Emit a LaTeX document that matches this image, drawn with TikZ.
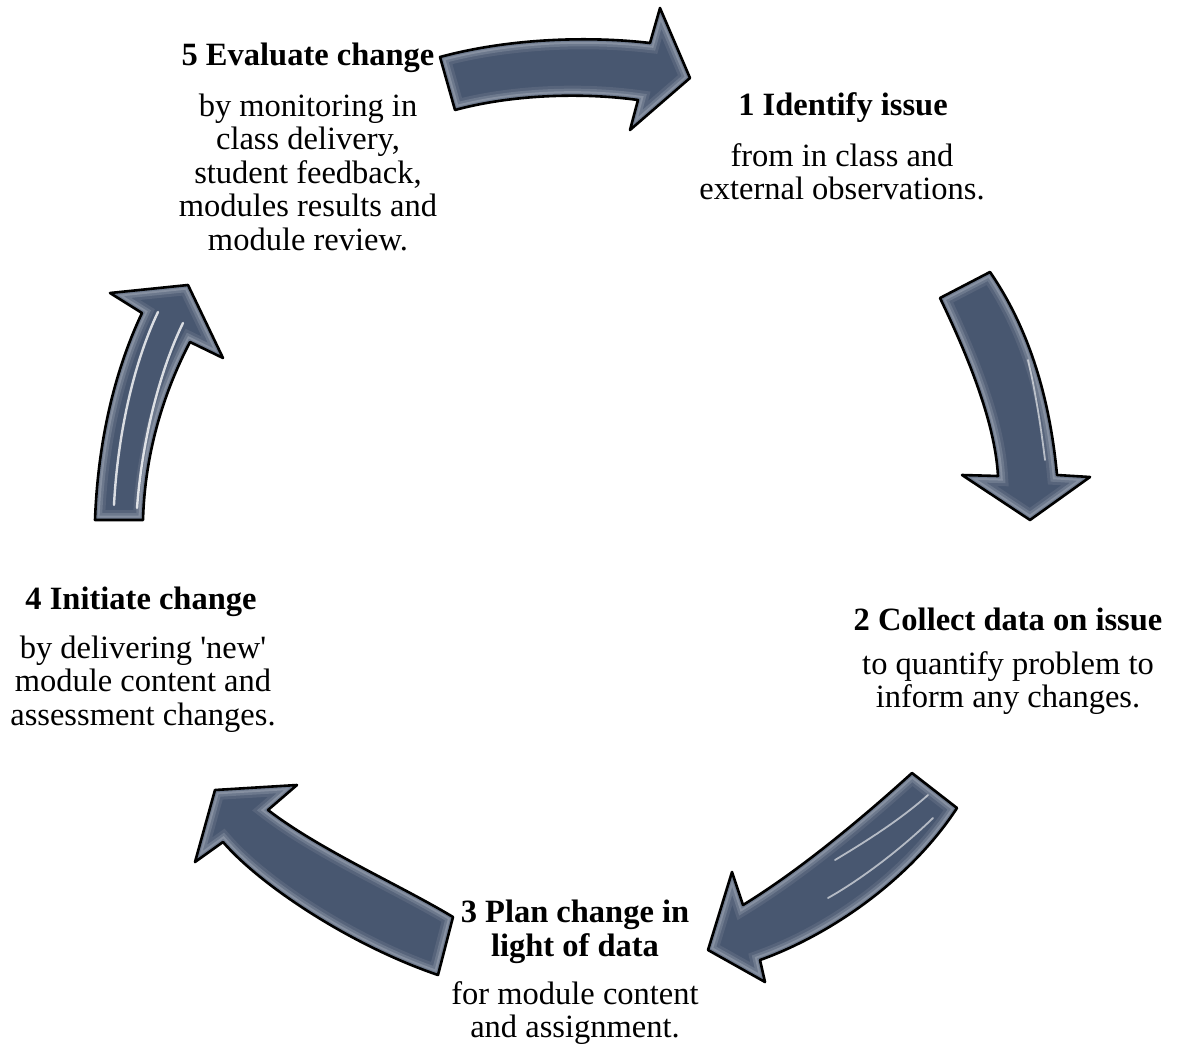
\documentclass[tikz,border=0pt]{standalone}
\usepackage{fontspec}
\setmainfont{Liberation Serif}[Ligatures=TeXOff]
\begin{document}
\begin{tikzpicture}[x=1pt,y=-1pt]
\definecolor{slate}{RGB}{72,87,112}
\tikzset{
  ttl/.style={font=\fontsize{32.5}{33.5}\selectfont\bfseries, align=center, inner sep=0pt},
  txt/.style={font=\fontsize{32.5}{33.5}\selectfont, align=center, inner sep=0pt},
  shine/.style={white, line width=1.8pt, opacity=0.6, line cap=round},
  strongshine/.style={white, line width=2.4pt, opacity=0.8, line cap=round},
}
\useasboundingbox (0,0) rectangle (1178,1046);

% outlines of the five curved block arrows
\def\arrowOne{(440,57) .. controls (510,38) and (590,36) .. (650,43) -- (660,8) -- (690,78) -- (630,130) -- (638,100) .. controls (580,92) and (510,95) .. (455,110) -- cycle}
\def\arrowTwo{(990,272) -- (940,298) .. controls (965,350) and (995,420) .. (998,476) -- (962,475) -- (1030,520) -- (1090,477) -- (1057,475) .. controls (1050,400) and (1030,330) .. (990,272) -- cycle}
\def\arrowThree{(912,773) .. controls (860,820) and (800,870) .. (743,905) -- (732,872) -- (708,950) -- (765,982) -- (760,960) .. controls (830,935) and (910,880) .. (957,808) -- cycle}
\def\arrowFour{(453,917) .. controls (400,885) and (320,850) .. (268,810) -- (297,785) -- (215,790) -- (195,862) -- (223,842) .. controls (260,885) and (350,945) .. (438,975) -- cycle}
\def\arrowFive{(95,520) .. controls (98,440) and (115,370) .. (142,313) -- (110,293) -- (188,285) -- (223,358) -- (190,342) .. controls (165,390) and (145,450) .. (143,520) -- cycle}

% glossy fill: base colour, lighter rim inside the outline, black edge
\foreach \p in {\arrowOne,\arrowTwo,\arrowThree,\arrowFour,\arrowFive}{
  \fill[slate] \p;
  \begin{scope}
    \clip \p;
    \draw[line width=20pt, slate!92!white] \p;
    \draw[line width=14pt, slate!80!white] \p;
    \draw[line width=9pt, slate!66!white] \p;
    \draw[line width=5pt, slate!78!white] \p;
  \end{scope}
  \draw[black, line width=2.6pt, line join=round] \p;
}

% specular streaks
\draw[strongshine] (114,505) .. controls (118,430) and (135,360) .. (158,312);
\draw[strongshine] (137,508) .. controls (142,440) and (160,370) .. (183,323);
\draw[shine] (928,795) .. controls (900,820) and (865,842) .. (835,860);
\draw[shine] (933,818) .. controls (900,850) and (860,880) .. (828,898);
\draw[shine] (1045,460) .. controls (1040,420) and (1035,390) .. (1028,360);

% step labels
\node[ttl] (t5) at (308,58) {5 Evaluate change};
\node[txt] (b5) at (308,172) {by monitoring in\\class delivery,\\student feedback,\\modules results and\\module review.};
\node[ttl] (t1) at (843,108) {1 Identify issue};
\node[txt] (b1) at (842,172) {from in class and\\external observations.};
\node[ttl] (t2) at (1008,619) {2 Collect data on issue};
\node[txt] (b2) at (1008,683) {to quantify problem to\\inform any changes.};
\node[ttl] (t3) at (575,932) {3 Plan change in\\light of data};
\node[txt] (b3) at (575,1013) {for module content\\and assignment.};
\node[ttl] (t4) at (141,602) {4 Initiate change};
\node[txt] (b4) at (143,684) {by delivering 'new'\\module content and\\assessment changes.};
\end{tikzpicture}
\end{document}
